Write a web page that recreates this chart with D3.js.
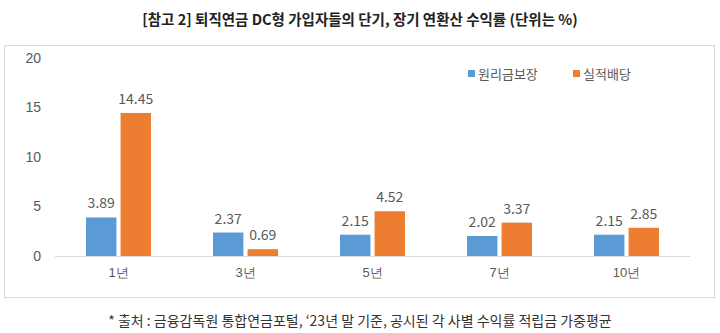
<!DOCTYPE html>
<html>
<head>
<meta charset="utf-8">
<script src="https://cdn.jsdelivr.net/npm/d3@7"></script>
<style>
  html, body { margin: 0; padding: 0; background: #fff; }
  svg { display: block; font-family: "Noto Sans CJK KR", "Noto Sans", sans-serif; }
</style>
</head>
<body>
<svg id="chart" width="720" height="333"></svg>
<script>
// Annualised returns of DC-type retirement pension subscribers (%)
const categories = ["1년", "3년", "5년", "7년", "10년"];
const seriesNames = ["원리금보장", "실적배당"];
const guaranteed = [3.89, 2.37, 2.15, 2.02, 2.15];
const performance = [14.45, 0.69, 4.52, 3.37, 2.85];
const yTicks = [0, 5, 10, 15, 20];
const colors = ["#5B9BD5", "#ED7D31"];

const title = "[참고 2] 퇴직연금 DC형 가입자들의 단기, 장기 연환산 수익률 (단위는 %)";
const footnote = "* 출처 : 금융감독원 통합연금포털, ‘23년 말 기준, 공시된 각 사별 수익률 적립금 가중평균";

const svg = d3.select("#chart");
const textColor = "#595959";

// Title
svg.append("text")
  .attr("x", 360).attr("y", 25)
  .attr("text-anchor", "middle")
  .attr("font-size", 14.5)
  .attr("font-weight", "bold")
  .attr("fill", "#222")
  .text(title);

// Chart frame
svg.append("rect")
  .attr("x", 4.5).attr("y", 45.5)
  .attr("width", 710).attr("height", 252)
  .attr("fill", "#fff")
  .attr("stroke", "#D9D9D9")
  .attr("stroke-width", 1);

const plot = { left: 55, right: 690, top: 58, bottom: 256 };

const x0 = d3.scaleBand()
  .domain(categories)
  .range([plot.left, plot.right])
  .paddingInner(0).paddingOuter(0);

const x1 = d3.scaleBand()
  .domain(seriesNames)
  .range([0, 65])
  .paddingInner(0.12);

const y = d3.scaleLinear()
  .domain([0, 20])
  .range([plot.bottom, plot.top]);

// Y axis labels
const yAxis = d3.axisLeft(y).tickValues(yTicks).tickSize(0).tickPadding(0);
const yg = svg.append("g")
  .attr("transform", `translate(${41},0)`)
  .call(yAxis);
yg.select(".domain").remove();
yg.selectAll("text")
  .attr("font-size", 14)
  .attr("fill", textColor)
  .attr("font-family", "inherit");

// Baseline
svg.append("line")
  .attr("x1", plot.left).attr("x2", plot.right)
  .attr("y1", y(0) + 0.5).attr("y2", y(0) + 0.5)
  .attr("stroke", "#D9D9D9").attr("stroke-width", 1);

// Category axis labels
const xAxis = d3.axisBottom(x0).tickSize(0).tickPadding(0);
const xg = svg.append("g")
  .attr("transform", `translate(0,${y(0) + 12})`)
  .call(xAxis);
xg.select(".domain").remove();
xg.selectAll("text")
  .attr("font-size", 13)
  .attr("fill", textColor)
  .attr("font-family", "inherit");

// Bars
const rows = categories.map((c, i) => ({ cat: c, values: [guaranteed[i], performance[i]] }));
const groupWidth = 65;
const groups = svg.append("g").selectAll("g")
  .data(rows)
  .join("g")
  .attr("transform", d => `translate(${x0(d.cat) + x0.bandwidth() / 2 - groupWidth / 2},0)`);

groups.selectAll("rect")
  .data(d => d.values.map((v, j) => ({ name: seriesNames[j], value: v, j })))
  .join("rect")
  .attr("x", d => x1(d.name))
  .attr("width", x1.bandwidth())
  .attr("y", d => y(d.value))
  .attr("height", d => y(0) - y(d.value))
  .attr("fill", d => colors[d.j]);

groups.selectAll("text.val")
  .data(d => d.values.map((v, j) => ({ name: seriesNames[j], value: v })))
  .join("text")
  .attr("class", "val")
  .attr("x", d => x1(d.name) + x1.bandwidth() / 2)
  .attr("y", d => y(d.value) - 9)
  .attr("text-anchor", "middle")
  .attr("font-size", 14)
  .attr("fill", textColor)
  .text(d => d.value.toFixed(2));

// Legend
const legendX = [468, 573];
const legend = svg.append("g").selectAll("g")
  .data(seriesNames)
  .join("g")
  .attr("transform", (d, i) => `translate(${legendX[i]},74)`);
legend.append("rect")
  .attr("x", 0).attr("y", -4)
  .attr("width", 7).attr("height", 7)
  .attr("fill", (d, i) => colors[i]);
legend.append("text")
  .attr("x", 10).attr("y", 5)
  .attr("font-size", 13)
  .attr("fill", textColor)
  .text(d => d);

// Footnote
svg.append("text")
  .attr("x", 360).attr("y", 326)
  .attr("text-anchor", "middle")
  .attr("font-size", 14)
  .attr("fill", "#333")
  .text(footnote);
</script>
</body>
</html>
